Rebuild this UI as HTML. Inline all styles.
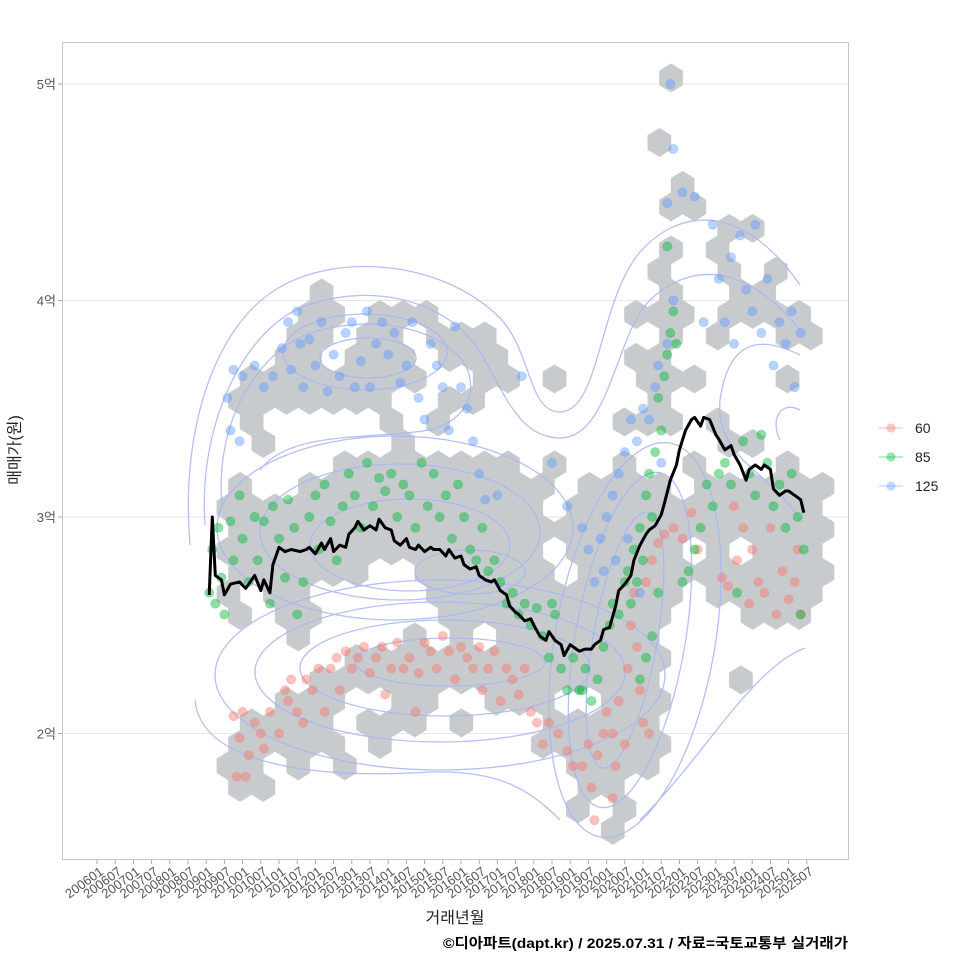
<!DOCTYPE html>
<html><head><meta charset="utf-8">
<style>
html,body{margin:0;padding:0;background:#fff;}
svg{display:block;font-family:"Liberation Sans","Noto Sans CJK KR",sans-serif;}
</style></head>
<body>
<svg id="chart" width="960" height="960" viewBox="0 0 960 960">
<rect x="0" y="0" width="960" height="960" fill="#fff"/>
<g id="grid"></g>
<g id="hexes"></g>
<g id="contours" fill="none" stroke="#a7b6f2" stroke-width="1.3" opacity="0.85">
<path d="M190,545 C180,430 215,330 272,292 C330,252 440,258 500,318 C532,352 528,412 560,412 C600,412 598,302 640,252 C682,205 745,205 800,285"/>
<path d="M205,525 C198,430 240,335 300,308 C370,280 450,300 482,355 C505,395 520,438 560,438 C610,438 615,335 650,300 C690,262 745,262 800,330"/>
<path d="M222,505 C215,430 250,360 305,335 C360,315 430,322 462,360 C480,385 470,420 430,430 C370,440 290,430 260,470"/>
<ellipse cx="365" cy="352" rx="82" ry="38"/>
<ellipse cx="368" cy="358" rx="48" ry="20"/>
<ellipse cx="395" cy="528" rx="178" ry="92"/>
<ellipse cx="400" cy="532" rx="140" ry="68"/>
<ellipse cx="410" cy="545" rx="100" ry="46"/>
<ellipse cx="470" cy="572" rx="55" ry="22"/>
<ellipse cx="440" cy="675" rx="225" ry="95"/>
<ellipse cx="440" cy="672" rx="185" ry="70"/>
<ellipse cx="445" cy="668" rx="145" ry="48"/>
<ellipse cx="450" cy="662" rx="95" ry="24"/>
<ellipse cx="625" cy="640" rx="32" ry="130" transform="rotate(10 625 640)"/>
<ellipse cx="630" cy="640" rx="55" ry="170" transform="rotate(10 630 640)"/>
<ellipse cx="635" cy="640" rx="80" ry="200" transform="rotate(10 635 640)"/>
<path d="M195,700 C200,760 300,780 430,772 C500,770 530,790 560,820"/>
<path d="M640,820 C690,770 720,720 760,680 C785,655 800,650 805,648"/>
<path d="M800,355 C770,340 730,330 720,400 C715,460 770,470 800,520"/>
<path d="M800,410 C780,400 770,420 780,440"/>
</g>
<g id="points"></g>
<g id="line"></g>
<rect x="62.5" y="42.5" width="786" height="817" fill="none" stroke="#c8c8c8" stroke-width="1"/>
<g id="axes"></g>
<text x="20" y="450" font-size="16" fill="#222" text-anchor="middle" transform="rotate(-90 20 450)">매매가(원)</text>
<text x="455" y="923" font-size="16" fill="#222" text-anchor="middle">거래년월</text>
<text x="443" y="948" font-size="14" font-weight="bold" fill="#000" textLength="405" lengthAdjust="spacingAndGlyphs">©디아파트(dapt.kr) / 2025.07.31 / 자료=국토교통부 실거래가</text>
<g id="legend"></g>
</svg>
<script>
// ---- data ----
const yTicks = [2, 3, 4, 5];
const yTickLabels = ["2억", "3억", "4억", "5억"];
const xTickLabels = ["200601","200607","200701","200707","200801","200807","200901","200907","201001","201007","201101","201107","201201","201207","201301","201307","201401","201407","201501","201507","201601","201607","201701","201707","201801","201807","201901","201907","202001","202007","202101","202107","202201","202207","202301","202307","202401","202407","202501","202507"];
const lineMonth = [37,38,39,41,42,44,47,49,50,52,54,55,57,58,59,60,62,64,67,69,70,72,74,75,77,78,80,82,83,85,86,87,88,90,92,93,95,97,98,100,102,103,105,106,108,110,111,113,115,116,118,120,121,123,125,126,128,130,131,133,135,136,138,139,141,143,144,146,148,149,151,153,154,156,158,159,161,163,164,166,167,169,171,172,174,176,177,179,181,182,184,186,187,189,191,192,194,196,197,199,200,202,204,205,207,209,210,212,214,215,217,219,220,222,223,225,227,228,230,232,233];
const linePrice = [2.64,3.00,2.73,2.71,2.64,2.69,2.70,2.67,2.69,2.73,2.66,2.71,2.65,2.78,2.82,2.86,2.84,2.85,2.84,2.85,2.86,2.83,2.88,2.85,2.90,2.84,2.87,2.86,2.92,2.95,2.98,2.96,2.94,2.96,2.94,2.99,2.95,2.94,2.89,2.87,2.90,2.86,2.85,2.87,2.84,2.86,2.85,2.85,2.82,2.85,2.81,2.82,2.78,2.76,2.77,2.73,2.71,2.70,2.71,2.66,2.64,2.59,2.56,2.55,2.52,2.53,2.50,2.45,2.43,2.47,2.43,2.41,2.36,2.41,2.39,2.38,2.39,2.39,2.41,2.43,2.48,2.49,2.59,2.66,2.69,2.73,2.80,2.87,2.92,2.94,2.96,3.01,3.06,3.17,3.24,3.31,3.40,3.45,3.46,3.42,3.46,3.45,3.38,3.36,3.31,3.33,3.29,3.24,3.17,3.22,3.24,3.22,3.24,3.22,3.13,3.10,3.12,3.12,3.10,3.08,3.02];
const pts60 = [[45,2.08],[47,1.98],[48,2.1],[46,1.8],[49,1.8],[50,1.9],[52,2.05],[54,2.0],[55,1.93],[57,2.1],[60,2.0],[62,2.2],[63,2.15],[64,2.25],[66,2.1],[68,2.05],[69,2.25],[71,2.2],[73,2.3],[75,2.1],[77,2.3],[79,2.35],[80,2.2],[82,2.38],[84,2.3],[86,2.35],[88,2.4],[90,2.28],[92,2.35],[94,2.4],[95,2.18],[97,2.3],[99,2.42],[101,2.3],[103,2.35],[105,2.1],[106,2.28],[108,2.42],[110,2.38],[112,2.3],[114,2.45],[116,2.38],[118,2.25],[120,2.4],[122,2.35],[124,2.3],[126,2.4],[127,2.2],[129,2.3],[131,2.38],[133,2.15],[135,2.3],[137,2.25],[139,2.18],[141,2.3],[143,2.1],[145,2.05],[147,1.95],[149,2.05],[152,2.0],[155,1.92],[157,1.85],[160,1.85],[162,1.95],[163,1.75],[165,1.9],[167,2.0],[168,2.1],[170,2.0],[171,1.85],[172,2.15],[174,1.95],[175,2.3],[176,2.5],[177,2.65],[178,2.4],[179,2.2],[180,2.05],[182,2.0],[181,2.7],[183,2.8],[185,2.88],[187,2.92],[190,2.95],[193,2.9],[196,3.02],[198,2.85],[206,2.72],[208,2.68],[210,3.05],[211,2.8],[213,2.95],[215,2.6],[216,2.85],[218,2.7],[220,2.65],[222,2.95],[224,2.55],[226,2.75],[228,2.62],[230,2.7],[232,2.55],[231,2.85],[164,1.6],[170,1.7]];
const pts85 = [[37,2.65],[38,2.85],[39,2.6],[40,2.95],[41,2.72],[42,2.55],[44,2.98],[45,2.8],[47,3.1],[48,2.9],[50,2.7],[52,3.0],[53,2.8],[55,2.98],[57,2.6],[58,3.05],[60,2.9],[62,2.72],[63,3.08],[65,2.95],[66,2.55],[68,2.7],[70,3.0],[72,3.1],[73,2.85],[75,3.15],[77,2.98],[79,2.8],[81,3.05],[83,3.2],[85,3.1],[87,2.95],[89,3.25],[91,3.05],[93,3.18],[95,3.12],[97,3.2],[99,3.0],[101,3.15],[103,3.1],[105,2.95],[107,3.25],[109,3.05],[111,3.2],[113,3.0],[115,3.1],[117,2.9],[119,3.15],[121,3.0],[123,2.85],[125,2.8],[127,2.95],[129,2.75],[131,2.8],[133,2.7],[135,2.6],[137,2.65],[139,2.55],[141,2.6],[143,2.5],[145,2.58],[147,2.45],[149,2.35],[151,2.55],[153,2.3],[155,2.2],[157,2.35],[159,2.2],[161,2.3],[163,2.15],[165,2.25],[167,2.4],[169,2.5],[170,2.6],[172,2.55],[174,2.7],[175,2.75],[176,2.6],[177,2.85],[178,2.7],[179,2.95],[180,2.8],[181,3.1],[182,3.2],[183,3.0],[184,3.3],[185,3.55],[186,3.4],[187,3.65],[188,3.75],[189,3.85],[190,3.95],[188,4.25],[191,3.8],[193,2.7],[195,2.75],[197,2.85],[199,2.95],[201,3.15],[203,3.05],[205,3.2],[207,3.25],[209,3.15],[211,2.65],[213,3.35],[215,3.2],[217,3.1],[219,3.38],[221,3.25],[223,3.05],[225,3.15],[227,2.95],[229,3.2],[231,3.0],[233,2.85],[232,2.55],[185,2.65],[183,2.45],[181,2.35],[179,2.25],[160,2.2],[150,2.6]];
const pts125 = [[43,3.55],[44,3.4],[45,3.68],[47,3.35],[48,3.65],[52,3.7],[55,3.6],[58,3.65],[61,3.78],[63,3.9],[64,3.68],[66,3.95],[67,3.8],[68,3.6],[70,3.82],[72,3.7],[74,3.9],[76,3.58],[78,3.75],[80,3.65],[82,3.85],[84,3.9],[85,3.6],[87,3.72],[89,3.95],[90,3.6],[92,3.8],[94,3.9],[96,3.75],[98,3.85],[100,3.62],[102,3.7],[104,3.9],[106,3.55],[108,3.45],[110,3.8],[112,3.7],[114,3.6],[116,3.4],[118,3.88],[120,3.6],[122,3.5],[124,3.35],[126,3.2],[128,3.08],[132,3.1],[140,3.65],[150,3.25],[155,3.05],[160,2.95],[162,2.85],[164,2.7],[166,2.9],[167,2.75],[168,3.0],[170,3.1],[171,2.8],[172,3.2],[174,3.3],[175,2.9],[176,3.45],[178,3.35],[179,2.65],[180,3.5],[182,3.45],[184,3.6],[185,3.7],[186,3.25],[188,3.8],[190,4.0],[188,4.45],[190,4.7],[189,5.0],[193,4.5],[197,4.48],[200,3.9],[203,4.35],[205,4.1],[207,3.9],[209,4.2],[210,3.8],[212,4.3],[214,4.05],[216,3.95],[217,4.35],[219,3.85],[221,4.1],[223,3.7],[225,3.9],[227,3.8],[229,3.95],[230,3.6],[232,3.85]];
// hexbin occupied cells: [row, list of columns]
const hexRows = [[0,[0]],[3,[-1]],[5,[0]],[6,[0,1]],[7,[2,3]],[8,[0,2]],[9,[-1,2,4]],[10,[-15,0,3,4]],
[11,[-16,-15,-13,-12,-11,-2,-1,0,2,3,4,5]],[12,[-16,-15,-13,-12,-10,-9,-8,0,2,5,6]],
[13,[-17,-16,-14,-13,-12,-10,-9,-8,-2,-1]],[14,[-18,-17,-16,-15,-14,-13,-12,-11,-8,-7,-5,-1,0,1,5]],
[15,[-19,-18,-17,-16,-15,-14,-13,-10,-9,-1]],[16,[-18,-12,-10,-2,-1,0,2]],[17,[-18,-12,2,3]],
[18,[-14,-13,-12,-11,-10,-9,-8,-7,-5,-2,1,5]],[19,[-19,-16,-15,-14,-13,-12,-11,-10,-9,-8,-7,-6,-4,-3,-2,-1,1,2,3,4,5,6]],
[20,[-19,-18,-17,-16,-15,-14,-13,-12,-11,-10,-9,-8,-7,-6,-4,-3,-2,-1,0,1,2,3,4,5,6]],
[21,[-19,-18,-17,-16,-15,-14,-13,-12,-11,-10,-9,-8,-7,-6,-5,-4,-3,-2,-1,0,1,2,3,4,5,6]],
[22,[-19,-18,-17,-16,-15,-14,-13,-12,-11,-10,-9,-8,-7,-6,-4,-3,-2,-1,0,2,4,5,6]],
[23,[-19,-18,-17,-16,-15,-14,-11,-10,-9,-8,-7,-6,-4,-3,-2,-1,0,1,2,3,4,5,6]],
[24,[-19,-17,-16,-10,-9,-8,-7,-6,-5,-4,-3,-2,-1,0,2,3,4,5,6]],
[25,[-19,-17,-16,-10,-9,-8,-7,-6,-5,-4,-3,-2,-1,3,4,5]],
[26,[-16,-11,-9,-7,-6,-5,-4,-3,-2,-1]],[27,[-14,-13,-12,-11,-10,-9,-8,-7,-6,-5,-4,-3,-2,-1]],
[28,[-15,-14,-13,-12,-11,-10,-9,-8,-7,-6,-5,-4,-3,-2,-1,3]],
[29,[-17,-16,-15,-12,-11,-8,-7,-6,-3,-2,-1]],[30,[-18,-17,-16,-15,-13,-12,-11,-9,-5,-4,-3,-2,-1]],
[31,[-19,-18,-17,-16,-15,-13,-6,-5,-4,-3,-2,-1]],[32,[-19,-18,-16,-14,-4,-3,-2,-1]],[33,[-19,-18,-4,-3]],[34,[-4,-2]],[35,[-3]]];
const seriesNames = ["60", "85", "125"];
const seriesColors = ["#F8766D", "#00BA38", "#619CFF"];

// ---- scales ----
const X0 = 97, PX_PER_MONTH = 3.0333, Y3 = 517, PX_PER_UNIT = 216.5;
function xOf(m){ return X0 + m * PX_PER_MONTH; }
function yOf(p){ return Y3 - (p - 3) * PX_PER_UNIT; }
const hexM0 = 189.24, hexDm = 7.68, hexP0 = 5.028, hexDp = 0.0993;
const NS = "http://www.w3.org/2000/svg";
function mk(tag, attrs, parent){ const e = document.createElementNS(NS, tag); for (const k in attrs) e.setAttribute(k, attrs[k]); parent.appendChild(e); return e; }

const grid = document.getElementById('grid');
yTicks.forEach((v, i) => {
  const l = mk('line', {x1:63, x2:848, y1:yOf(v), y2:yOf(v), stroke:'#e6e6e6', 'stroke-width':1}, grid);
  
  
});

// hexes
const hexG = document.getElementById('hexes');
const HW = 11.65, HR = 14.3;
hexRows.forEach(([r, cols]) => {
  cols.forEach(c => {
    const m = hexM0 + (c + (r % 2 ? 0.5 : 0)) * hexDm;
    const p = hexP0 - r * hexDp;
    const cx = xOf(m), cy = yOf(p);
    const pts = [[0,-HR],[HW,-HR/2],[HW,HR/2],[0,HR],[-HW,HR/2],[-HW,-HR/2]].map(q => (cx+q[0]).toFixed(1)+','+(cy+q[1]).toFixed(1)).join(' ');
    const h = mk('polygon', {points: pts, fill:'#c8cbce', stroke:'#c8cbce', 'stroke-width':0.4}, hexG);
    
    
  });
});

// points
const ptG = document.getElementById('points');
[pts60, pts85, pts125].forEach((arr, si) => {
  arr.forEach(([m, p]) => {
    const c = mk('circle', {cx:xOf(m), cy:yOf(p), r:4.6, fill:seriesColors[si], 'fill-opacity':0.45, stroke:seriesColors[si], 'stroke-opacity':0.25}, ptG);
    
    
  });
});

// line
const lineG = document.getElementById('line');
const d = lineMonth.map((m, i) => (i ? 'L' : 'M') + xOf(m).toFixed(1) + ',' + yOf(linePrice[i]).toFixed(1)).join(' ');
const path = mk('path', {d: d, fill:'none', stroke:'#000', 'stroke-width':3, 'stroke-linejoin':'round'}, lineG);



// axes
const axes = document.getElementById('axes');
yTicks.forEach((v, i) => {
  const t = mk('line', {x1:58, x2:62, y1:yOf(v), y2:yOf(v), stroke:'#aaa'}, axes);
  
  
  const tx = mk('text', {x:56, y:yOf(v)+5, 'font-size':13, fill:'#555', 'text-anchor':'end'}, axes);
  tx.textContent = yTickLabels[i];
  
  
});
xTickLabels.forEach((lab, i) => {
  const x = xOf(i * 6);
  const t = mk('line', {x1:x, x2:x, y1:860, y2:864, stroke:'#aaa'}, axes);
  
  
  const tx = mk('text', {x:x+2, y:866, 'font-size':13, fill:'#555', 'text-anchor':'end', transform:'rotate(-36 '+(x+2)+' 866)', dy:'0.7em'}, axes);
  tx.textContent = lab;
  
  
});

// legend
const leg = document.getElementById('legend');
seriesNames.forEach((n, i) => {
  const y = 428 + i * 29;
  const g = mk('g', {}, leg);
  
  
  mk('line', {x1:879, x2:903, y1:y, y2:y, stroke:seriesColors[i], 'stroke-opacity':0.35, 'stroke-width':1.5}, g);
  mk('circle', {cx:891, cy:y, r:4.6, fill:seriesColors[i], 'fill-opacity':0.4}, g);
  const tx = mk('text', {x:915, y:y+5, 'font-size':14, fill:'#222'}, g);
  tx.textContent = n;
});
</script>
</body></html>
